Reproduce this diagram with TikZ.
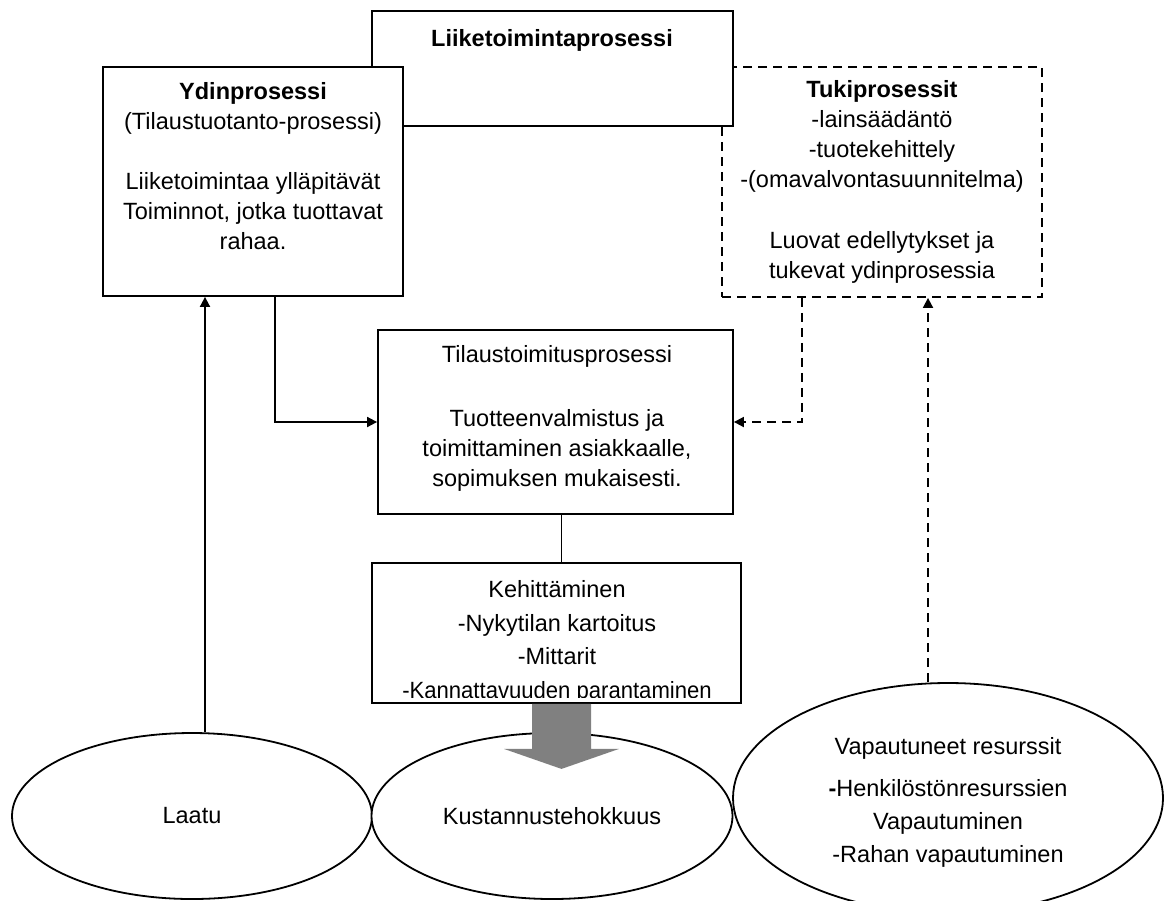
\documentclass[tikz,border=0pt]{standalone}
\usepackage{fontspec}
\setmainfont{Liberation Sans}
\usetikzlibrary{fit,shapes.geometric,calc,arrows.meta}
\begin{document}
\begin{tikzpicture}[x=0.5pt,y=-0.5pt,
  box/.style={draw, line width=0.9pt, fill=white, inner sep=0pt},
  txt/.style={align=center, font=\fontsize{11.75}{15}\selectfont, inner sep=0pt},
  arr/.style={line width=0.9pt, -{Triangle[length=5pt,width=5pt]}},
  dsh/.style={dash pattern=on 4.5pt off 3pt},
  darr/.style={arr, dsh},
  ell/.style={draw, ellipse, line width=0.9pt, fill=white, inner sep=0pt, font=\fontsize{11.75}{15}\selectfont}]
\useasboundingbox (0,0) rectangle (1165,900);

% boxes
\node[box, dsh, fit={(722,67) (1042,297)}] (tuki) {};
\node[box, fit={(372,11) (733,126)}] (liike) {};
\node[box, fit={(103,67) (403,296)}] (ydin) {};
\node[box, fit={(378,330) (733,514)}] (tilaus) {};
\node[box, fit={(372,563) (741,703)}] (kehit) {};

% texts
\node[txt] (liiket) at (552,40) {\textbf{Liiketoimintaprosessi}};
\node[txt] (ydint) at (253,166) {\textbf{Ydinprosessi}\\(Tilaustuotanto-prosessi)\\[15pt]Liiketoimintaa ylläpitävät\\Toiminnot, jotka tuottavat\\rahaa.};
\node[txt] (tukit) at (882,182) {\textbf{Tukiprosessit}\\-lainsäädäntö\\-tuotekehittely\\-(omavalvontasuunnitelma)\\[15.5pt]Luovat edellytykset ja\\tukevat ydinprosessia};
\node[txt] (tilaust) at (557,418) {Tilaustoimitusprosessi\\[17pt]Tuotteenvalmistus ja\\toimittaminen asiakkaalle,\\sopimuksen mukaisesti.};
\begin{scope}
  \clip (kehit.north west) rectangle ($(kehit.south east)+(0,-6)$);
  \node[txt, font=\fontsize{11.75}{16.85}\selectfont] (kehitt) at (557,642) {Kehittäminen\\-Nykytilan kartoitus\\-Mittarit\\\scalebox{0.94}[1]{-Kannattavuuden parantaminen}};
\end{scope}

% ellipses
\node[ell, minimum width=180pt, minimum height=83pt] (laatu) at (192,816) {Laatu};
\node[ell, minimum width=180.5pt, minimum height=83pt] (kust) at (552,816) {Kustannustehokkuus};
\node[ell, minimum width=215pt, minimum height=115pt] (vap) at (948,798) {};
\node[txt, font=\fontsize{11.75}{16.5}\selectfont] (vapt) at (948,802) {Vapautuneet resurssit\\[4.5pt]\textbf{-}Henkilöstönresurssien\\Vapautuminen\\-Rahan vapautuminen};

% connectors
\coordinate (a1) at ($(laatu.north)+(13,0)$);
\draw[arr] (a1) -- (a1 |- ydin.south);
\draw[arr] ($(ydin.south)+(22,0)$) |- (tilaus.west);
\draw[darr] ($(tuki.south)+(-80,0)$) |- (tilaus.east);
\coordinate (a2) at ($(vap.north)+(-20,0)$);
\draw[darr] (a2) -- (a2 |- tuki.south);
\draw[line width=0.9pt] ($(tilaus.south)+(6,0)$) -- ($(kehit.north)+(5,0)$);

% big gray arrow
\fill[gray] ($(kehit.south)+(-24.5,0)$) -- ++(59,0) -- ++(0,45) -- ++(28,0) -- ++(-57.5,20) -- ++(-57.5,-20) -- ++(28,0) -- cycle;
\end{tikzpicture}
\end{document}
